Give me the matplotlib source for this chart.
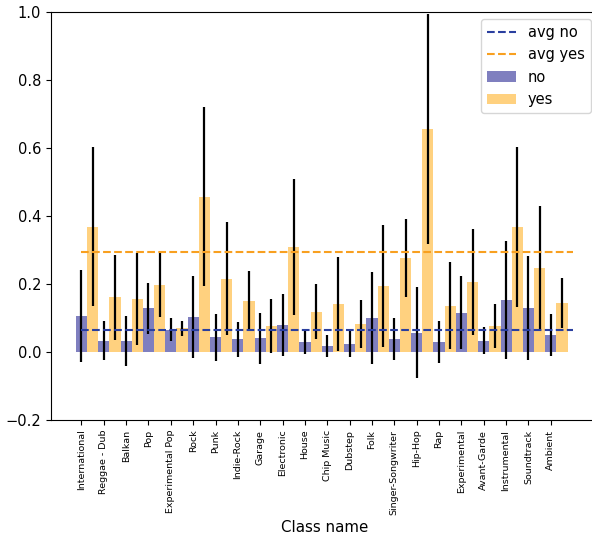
import matplotlib
matplotlib.use("Agg")
import matplotlib.pyplot as plt
import numpy as np

categories = ["International", "Reggae - Dub", "Balkan", "Pop", "Experimental Pop",
              "Rock", "Punk", "Indie-Rock", "Garage", "Electronic", "House",
              "Chip Music", "Dubstep", "Folk", "Singer-Songwriter", "Hip-Hop", "Rap",
              "Experimental", "Avant-Garde", "Instrumental", "Soundtrack", "Ambient"]

no_vals = [0.106, 0.033, 0.033, 0.129, 0.065, 0.103, 0.043, 0.037, 0.040, 0.079, 0.030,
           0.018, 0.024, 0.100, 0.038, 0.057, 0.030, 0.116, 0.033, 0.153, 0.129, 0.050]
no_err = [0.136, 0.057, 0.074, 0.075, 0.034, 0.121, 0.068, 0.052, 0.074, 0.092, 0.036,
          0.032, 0.040, 0.135, 0.061, 0.134, 0.062, 0.107, 0.040, 0.174, 0.153, 0.061]
yes_vals = [0.369, 0.161, 0.156, 0.197, 0.070, 0.457, 0.216, 0.150, 0.076, 0.309, 0.119,
            0.141, 0.082, 0.195, 0.277, 0.656, 0.136, 0.206, 0.077, 0.368, 0.248, 0.144]
yes_err = [0.235, 0.125, 0.135, 0.093, 0.022, 0.263, 0.167, 0.089, 0.079, 0.200, 0.082,
           0.139, 0.070, 0.180, 0.115, 0.337, 0.128, 0.156, 0.065, 0.235, 0.180, 0.074]
avg_no = 0.065
avg_yes = 0.295

plt.rcParams['font.family'] = ['DejaVu Sans']

fig = plt.figure(figsize=(5.92, 5.38), dpi=100)
ax = fig.add_axes([51 / 592, 1 - 420 / 538, (598 - 51) / 592, 408 / 538])

x = np.arange(len(categories))
w = 0.5
ax.bar(x, no_vals, w, yerr=no_err, color='navy', alpha=0.5, label='no',
       error_kw=dict(ecolor='k', elinewidth=1.6, capsize=0))
ax.bar(x + w, yes_vals, w, yerr=yes_err, color='orange', alpha=0.5, label='yes',
       error_kw=dict(ecolor='k', elinewidth=1.6, capsize=0))

ax.hlines(avg_no, 0, len(categories), colors='#2a3f9f', linestyles='--', lw=1.5,
          label='avg no', zorder=3)
ax.hlines(avg_yes, 0, len(categories), colors='#f8a020', linestyles='--', lw=1.5,
          label='avg yes', zorder=3)

ax.set_xlim(-1.3625, 23.1125)
ax.set_ylim(-0.2, 1.0)
ax.set_yticks(np.arange(-0.2, 1.01, 0.2))
ax.tick_params(axis='y', labelsize=10.5)
ax.set_xticks(x)
ax.set_xticklabels(categories, rotation=90, fontsize=6.8)
ax.set_xlabel('Class name', fontsize=10.8)
ax.spines['right'].set_visible(False)

handles, labels = ax.get_legend_handles_labels()
order = [labels.index(l) for l in ['avg no', 'avg yes', 'no', 'yes']]
ax.legend([handles[i] for i in order], [labels[i] for i in order],
          loc='upper right', fontsize=10.5)

fig.savefig('out.png', dpi=100)
